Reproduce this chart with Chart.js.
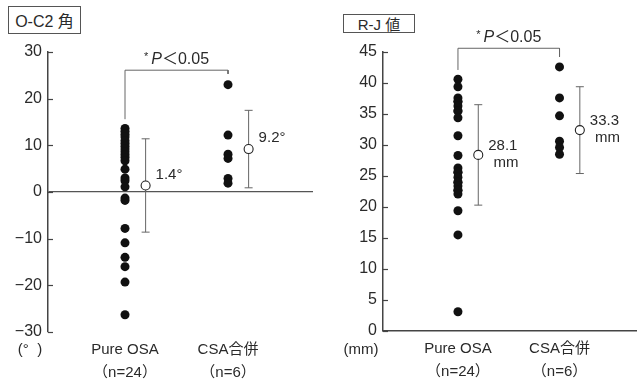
<!DOCTYPE html>
<html><head><meta charset="utf-8">
<script src="https://cdn.jsdelivr.net/npm/chart.js@4/dist/chart.umd.min.js"></script>
<style>
html,body{margin:0;padding:0;background:#fff;}
#wrap{position:relative;width:642px;height:380px;overflow:hidden;background:#fff;}
canvas{position:absolute;top:0;}
.tbox{position:absolute;border:1px solid #555;font-family:"Liberation Sans","Noto Sans CJK JP",sans-serif;color:#2a2a2a;display:flex;align-items:center;justify-content:center;box-sizing:border-box;background:#fff;}
</style></head><body>
<div id="wrap">
  <canvas id="c1" width="320" height="380" style="left:0"></canvas>
  <canvas id="c2" width="322" height="380" style="left:320px"></canvas>
  <div class="tbox" style="left:8px;top:6px;width:73px;height:28px;font-size:16px">O-C2 角</div>
  <div class="tbox" style="left:343px;top:14px;width:72px;height:19px;font-size:15px">R-J 値</div>
</div>
<script>
// ---------- data ----------
const categories = ['Pure OSA', 'CSA合併'];
const groupSizes = ['（n=24）', '（n=6）'];

// O-C2 angle (degrees)
const ocPure = [13.6, 13.0, 12.4, 11.8, 11.0, 10.4, 9.8, 9.2, 8.6, 8.0, 7.4, 6.7, 4.9, 3.0, 2.4, 1.1, -1.3, -1.8, -7.8, -10.9, -14.0, -16.0, -19.3, -26.3];
const ocCSA = [23.0, 12.2, 8.1, 7.2, 2.9, 1.9];
const ocMeans = [1.4, 9.2];
const ocSD = [10.0, 8.3];
const ocMeanLabels = ['1.4°', '9.2°'];
const ocTicks = [30, 20, 10, 0, -10, -20, -30];
const ocBracket = [15.6, 26.1, 25.3]; // left leg end, top, right leg end

// R-J value (mm)
const rjPure = [40.6, 39.4, 37.6, 37.0, 37.0, 36.3, 35.5, 35.5, 34.4, 31.5, 28.3, 26.3, 25.6, 25.6, 24.8, 24.0, 24.0, 23.4, 22.7, 22.7, 22.1, 19.4, 15.5, 3.1];
const rjCSA = [42.6, 37.6, 34.7, 30.6, 29.6, 28.5];
const rjMeans = [28.4, 32.4];
const rjSD = [8.1, 7.0];
const rjMeanLabels = ['28.1', '33.3'];
const rjTicks = [45, 40, 35, 30, 25, 20, 15, 10, 5, 0];
const rjBracket = [42.1, 45.6, 44.2];

const pText = 'P';
const pValue = '＜0.05';
// ---------- end data ----------

const FONT = '"Liberation Sans","Noto Sans CJK JP",Arial,sans-serif';
const TXT = '#2a2a2a';
const MEAN_OFFSET = 0.2;

function buildDatasets(pure, csa, means, sd, bracket) {
  const ds = [];
  ds.push({ // means
    data: means.map((m, i) => ({x: i + 1 + MEAN_OFFSET, y: m})),
    pointRadius: 4.5, pointBackgroundColor: '#fff', pointBorderColor: '#222', pointBorderWidth: 1.1
  });
  means.forEach((m, i) => {
    ds.push({
      data: [{x: i + 1 + MEAN_OFFSET, y: m - sd[i]}, {x: i + 1 + MEAN_OFFSET, y: m + sd[i]}],
      showLine: true, borderColor: '#666', borderWidth: 1,
      pointStyle: 'line', pointRadius: 4, pointBorderColor: '#666', pointBorderWidth: 1
    });
  });
  ds.push({
    data: pure.map(v => ({x: 1, y: v})),
    pointRadius: 4.5, pointBackgroundColor: '#111', pointBorderWidth: 0
  });
  ds.push({
    data: csa.map(v => ({x: 2, y: v})),
    pointRadius: 4.5, pointBackgroundColor: '#111', pointBorderWidth: 0
  });
  ds.push({ // bracket
    data: [{x: 1, y: bracket[0]}, {x: 1, y: bracket[1]}, {x: 2, y: bracket[1]}, {x: 2, y: bracket[2]}],
    showLine: true, borderColor: '#666', borderWidth: 1, pointRadius: 0, clip: false
  });
  return ds;
}

function annotPlugin(o) {
  return {
    id: 'annot',
    afterDatasetsDraw(chart) {
      const {ctx, chartArea: a, scales: {x, y}} = chart;
      ctx.save();
      // inward tick marks
      ctx.strokeStyle = '#444'; ctx.lineWidth = 1.2;
      o.ticks.forEach(v => {
        const py = Math.round(y.getPixelForValue(v)) + 0.5;
        ctx.beginPath(); ctx.moveTo(a.left, py); ctx.lineTo(a.left + 5, py); ctx.stroke();
      });
      ctx.fillStyle = TXT;
      ctx.textBaseline = 'middle';
      // mean labels
      o.labels.forEach((t, i) => {
        const px = x.getPixelForValue(i + 1 + MEAN_OFFSET) + 10;
        const py = y.getPixelForValue(o.means[i]);
        ctx.font = '15px ' + FONT;
        ctx.textAlign = 'left';
        if (o.unit) {
          ctx.fillText(t, px, py - 9);
          const w = ctx.measureText(t).width;
          ctx.textAlign = 'right';
          ctx.fillText(o.unit, px + w + 1, py + 8);
        } else {
          ctx.fillText(t, px, py - 11);
        }
      });
      // p value
      const cx = x.getPixelForValue(1.5);
      const ty = y.getPixelForValue(o.bracket[1]) - 11;
      ctx.font = '11px ' + FONT; const wS = ctx.measureText('*').width;
      ctx.font = 'italic 16px ' + FONT; const wP = ctx.measureText(pText).width;
      ctx.font = '16px ' + FONT; const wV = ctx.measureText(pValue).width;
      let sx = cx - (wS + 3 + wP + wV) / 2;
      ctx.textAlign = 'left';
      ctx.font = '11px ' + FONT; ctx.fillText('*', sx, ty - 2); sx += wS + 3;
      ctx.font = 'italic 16px ' + FONT; ctx.fillText(pText, sx, ty); sx += wP;
      ctx.font = '16px ' + FONT; ctx.fillText(pValue, sx, ty);
      // unit label under axis
      ctx.font = '15px ' + FONT; ctx.textAlign = 'center';
      ctx.fillText(o.axisUnit, o.axisUnitX, 350);
      ctx.restore();
    }
  };
}

function makeChart(id, cfg) {
  new Chart(document.getElementById(id), {
    type: 'scatter',
    data: {datasets: buildDatasets(cfg.pure, cfg.csa, cfg.means, cfg.sd, cfg.bracket)},
    options: {
      responsive: false, animation: false, events: [],
      layout: {padding: {top: 52, right: cfg.padRight, bottom: 0, left: 0}},
      plugins: {legend: {display: false}, tooltip: {enabled: false}},
      scales: {
        x: {
          type: 'linear', min: cfg.xmin, max: cfg.xmax,
          afterFit: s => { s.height = cfg.xHeight; },
          afterBuildTicks: s => { s.ticks = [{value: 1}, {value: 2}]; },
          ticks: {
            callback: (v, i) => [categories[i], groupSizes[i]],
            color: TXT, font: {family: FONT, size: 15, lineHeight: 1.55}, padding: 6, maxRotation: 0
          },
          grid: {color: 'rgba(0,0,0,0)', drawTicks: false},
          border: {display: cfg.xBorder, color: '#444', width: 1.5}
        },
        y: {
          min: cfg.ymin, max: cfg.ymax,
          afterFit: s => { s.width = cfg.yWidth; },
          afterBuildTicks: s => { s.ticks = cfg.ticks.slice().reverse().map(v => ({value: v})); },
          ticks: {
            callback: v => String(v).replace('-', '−'),
            color: TXT, font: {family: FONT, size: 16}, padding: 6
          },
          grid: {
            drawTicks: false, lineWidth: 1.2,
            color: c => (cfg.zeroLine && c.tick && c.tick.value === 0) ? '#555' : 'rgba(0,0,0,0)'
          },
          border: {display: true, color: '#444', width: 1.5}
        }
      }
    },
    plugins: [annotPlugin({ticks: cfg.ticks, labels: cfg.labels, means: cfg.means, unit: cfg.unit,
      bracket: cfg.bracket, axisUnit: cfg.axisUnit, axisUnitX: cfg.axisUnitX})]
  });
}

makeChart('c1', {
  pure: ocPure, csa: ocCSA, means: ocMeans, sd: ocSD, bracket: ocBracket, labels: ocMeanLabels,
  ticks: ocTicks, ymin: -30, ymax: 30, xmin: 0.2524, xmax: 2.825, padRight: 7, xHeight: 48, yWidth: 48,
  xBorder: false, zeroLine: true, unit: null, axisUnit: '(°  )', axisUnitX: 30
});
makeChart('c2', {
  pure: rjPure, csa: rjCSA, means: rjMeans, sd: rjSD, bracket: rjBracket, labels: rjMeanLabels,
  ticks: rjTicks, ymin: 0, ymax: 45, xmin: 0.262, xmax: 2.757, padRight: 2, xHeight: 49, yWidth: 63,
  xBorder: true, zeroLine: false, unit: 'mm', axisUnit: '(mm)', axisUnitX: 41
});
</script>
</body></html>
